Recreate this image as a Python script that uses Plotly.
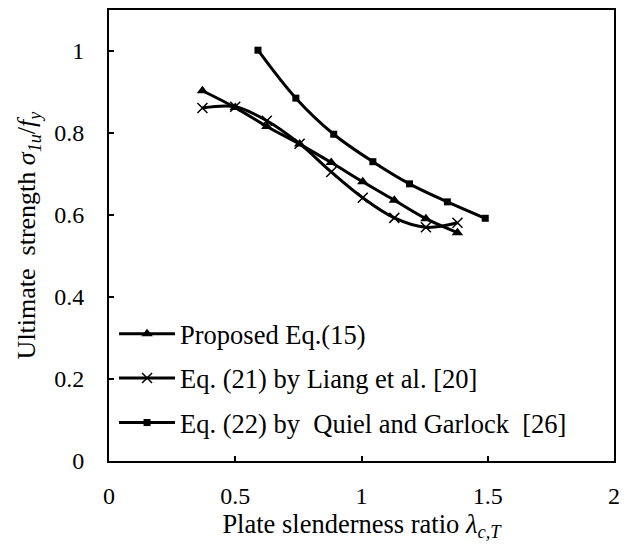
import plotly.graph_objects as go

# Plate slenderness ratio (x) and normalised ultimate strength (y) for each method
prop_x = [0.37, 0.50, 0.625, 0.755, 0.88, 1.005, 1.13, 1.255, 1.38]
prop_y = [0.903, 0.862, 0.816, 0.773, 0.728, 0.681, 0.636, 0.591, 0.557]

liang_x = [0.37, 0.50, 0.625, 0.755, 0.88, 1.005, 1.13, 1.255, 1.38]
liang_y = [0.861, 0.864, 0.830, 0.774, 0.705, 0.642, 0.593, 0.570, 0.581]

quiel_x = [0.59, 0.74, 0.89, 1.045, 1.19, 1.34, 1.49]
quiel_y = [1.002, 0.885, 0.797, 0.730, 0.676, 0.632, 0.592]

series_names = [
    "Proposed Eq.(15)",
    "Eq. (21) by Liang et al. [20]",
    "Eq. (22) by&nbsp; Quiel and Garlock&nbsp; [26]",
]

x_ticks = [0, 0.5, 1, 1.5, 2]
x_ticklabels = ["0", "0.5", "1", "1.5", "2"]
y_ticks = [0, 0.2, 0.4, 0.6, 0.8, 1]
y_ticklabels = ["0", "0.2", "0.4", "0.6", "0.8", "1"]

FONT = "Liberation Serif, Times New Roman, serif"

fig = go.Figure()

fig.add_trace(go.Scatter(
    x=prop_x, y=prop_y, name=series_names[0], legendgroup="a",
    mode="lines+markers",
    line=dict(color="black", width=3, shape="spline", smoothing=1),
    marker=dict(symbol="triangle-up", size=10, color="black"),
))
fig.add_trace(go.Scatter(
    x=liang_x, y=liang_y, name=series_names[1], legendgroup="b",
    mode="lines+markers",
    line=dict(color="black", width=3, shape="spline", smoothing=1),
    marker=dict(symbol="x-thin", size=10, color="black",
                line=dict(color="black", width=1.5)),
))
fig.add_trace(go.Scatter(
    x=quiel_x, y=quiel_y, name=series_names[2], legendgroup="c",
    mode="lines+markers",
    line=dict(color="black", width=3, shape="spline", smoothing=1),
    marker=dict(symbol="square", size=7, color="black"),
))

axis_common = dict(
    showline=True, linecolor="black", linewidth=2, mirror=True,
    ticks="inside", ticklen=5, tickwidth=1.5, tickcolor="black",
    showgrid=False, zeroline=False,
    tickfont=dict(family=FONT, size=24, color="black"),
)

fig.update_xaxes(
    range=[0, 2], tickvals=x_ticks, ticktext=x_ticklabels,
    ticklabelstandoff=12,
    title=dict(text="Plate slenderness ratio <i>λ</i><sub><i>c,T</i></sub>",
               font=dict(family=FONT, size=26.5, color="black"), standoff=6),
    **axis_common,
)
fig.update_yaxes(
    range=[0, 1.1], tickvals=y_ticks, ticktext=y_ticklabels,
    ticklabelstandoff=18,
    title=dict(text="Ultimate&nbsp; strength <i>σ</i><sub><i>1u</i></sub>/<i>f</i><sub><i>y</i></sub>",
               font=dict(family=FONT, size=26, color="black"), standoff=11),
    **axis_common,
)

fig.update_layout(
    width=627, height=544, autosize=False,
    margin=dict(l=109, r=7, t=10, b=83),
    paper_bgcolor="white", plot_bgcolor="white",
    font=dict(family=FONT, size=24, color="black"),
    legend=dict(
        x=0.01, y=0.335, xanchor="left", yanchor="top",
        bgcolor="rgba(0,0,0,0)", borderwidth=0,
        tracegroupgap=7, itemwidth=56,
        font=dict(family=FONT, size=26.5, color="black"),
    ),
    showlegend=True,
)

fig.write_html("out.html")
